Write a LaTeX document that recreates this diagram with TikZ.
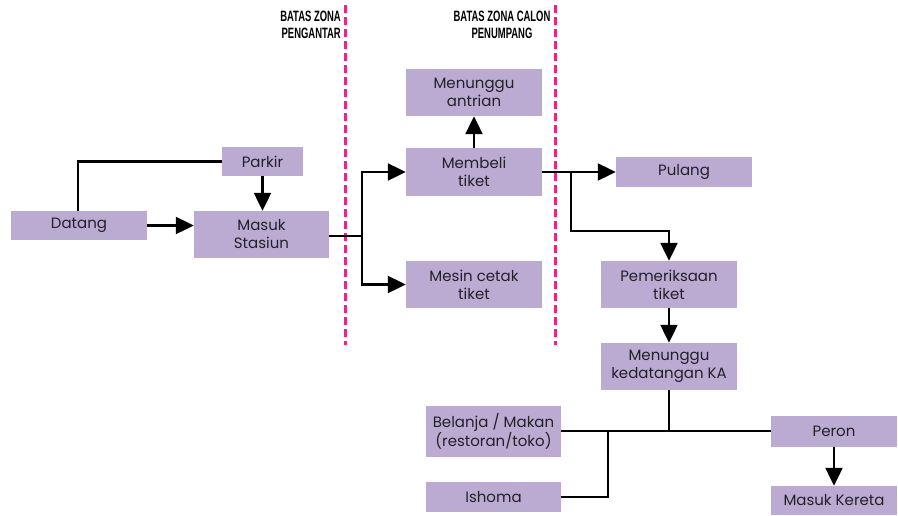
\documentclass[tikz,border=0pt]{standalone}
\usepackage{fontspec}
\setmainfont{Poppins}
\newfontfamily\zonefont{Liberation Sans}
\usetikzlibrary{arrows.meta}
\definecolor{boxfill}{RGB}{187,171,211}
\definecolor{zonepink}{RGB}{232,40,122}
\definecolor{boxtext}{RGB}{35,32,40}
\tikzset{
  stepbox/.style={rectangle, fill=boxfill, inner sep=0pt, align=center,
    text=boxtext, font=\fontsize{15}{18}\selectfont},
  link/.style={line width=2.2pt, black},
  arr/.style={link, -{Triangle[length=18pt,width=17pt]}},
  zoneline/.style={line width=3pt, zonepink, dash pattern=on 8pt off 4pt},
  zonelabel/.style={inner sep=0pt, font=\zonefont\bfseries\fontsize{15}{16.5}\selectfont}
}
\begin{document}
\begin{tikzpicture}[x=1pt, y=-1pt]
\useasboundingbox (0,0) rectangle (898,515);

% zone boundaries
\draw[zoneline] (345,5) -- (345,345);
\draw[zoneline] (555,5) -- (555,345);
\node[zonelabel, anchor=north east] (zonea) at (341,10)
  {\scalebox{0.63}[1]{\begin{tabular}{@{}r@{}}BATAS ZONA\\PENGANTAR\end{tabular}}};
\node[zonelabel, anchor=north] (zoneb) at (502,10)
  {\scalebox{0.63}[1]{\begin{tabular}{@{}c@{}}BATAS ZONA CALON\\PENUMPANG\end{tabular}}};

% steps
\node[stepbox, minimum width=136pt, minimum height=29pt] (datang) at (79,225.5) {Datang};
\node[stepbox, minimum width=81pt, minimum height=29pt] (parkir) at (262.5,161.5) {Parkir};
\node[stepbox, minimum width=135pt, minimum height=47pt] (masuk) at (261.5,234.5) {Masuk\\Stasiun};
\node[stepbox, minimum width=136pt, minimum height=47pt] (antrian) at (474,92.5) {Menunggu\\antrian};
\node[stepbox, minimum width=136pt, minimum height=48pt] (membeli) at (474,172) {Membeli\\tiket};
\node[stepbox, minimum width=136pt, minimum height=47pt] (mesin) at (474,284.5) {Mesin cetak\\tiket};
\node[stepbox, minimum width=136pt, minimum height=30pt] (pulang) at (684,172) {Pulang};
\node[stepbox, minimum width=136pt, minimum height=47pt] (periksa) at (669,284.5) {Pemeriksaan\\tiket};
\node[stepbox, minimum width=136pt, minimum height=47pt] (tunggu) at (669,366.5) {Menunggu\\kedatangan KA};
\node[stepbox, minimum width=135pt, minimum height=51pt] (belanja) at (493.5,431) {Belanja / Makan\\(restoran/toko)};
\node[stepbox, minimum width=135pt, minimum height=30pt] (ishoma) at (493.5,497) {Ishoma};
\node[stepbox, minimum width=126pt, minimum height=31pt] (peron) at (834,431) {Peron};
\node[stepbox, minimum width=126pt, minimum height=29pt] (kereta) at (834,500.5) {Masuk Kereta};

% junctions
\coordinate (j1) at (362,236);
\coordinate (j2) at (571,172);
\coordinate (j3) at (571,231);
\coordinate (j4) at (669,431);
\coordinate (j5) at (608,431);

% connectors
\draw[link] (datang.north -| 78,0) |- (parkir.west);
\draw[arr] (parkir.south) -- (masuk.north -| parkir.south);
\draw[arr] (datang.east) -- (masuk.west |- datang.east);
\draw[link] (masuk.east |- j1) -- (j1);
\draw[arr] (j1) |- (membeli.west);
\draw[arr] (j1) |- (mesin.west);
\draw[arr] (membeli.north) -- (antrian.south);
\draw[arr] (membeli.east) -- (pulang.west);
\draw[arr] (j2) -- (j3) -| (periksa.north);
\draw[arr] (periksa.south) -- (tunggu.north);
\draw[link] (tunggu.south) -- (j4);
\draw[link] (belanja.east) -- (peron.west);
\draw[link] (ishoma.east) -| (j5);
\draw[arr] (peron.south) -- (kereta.north);
\end{tikzpicture}
\end{document}
